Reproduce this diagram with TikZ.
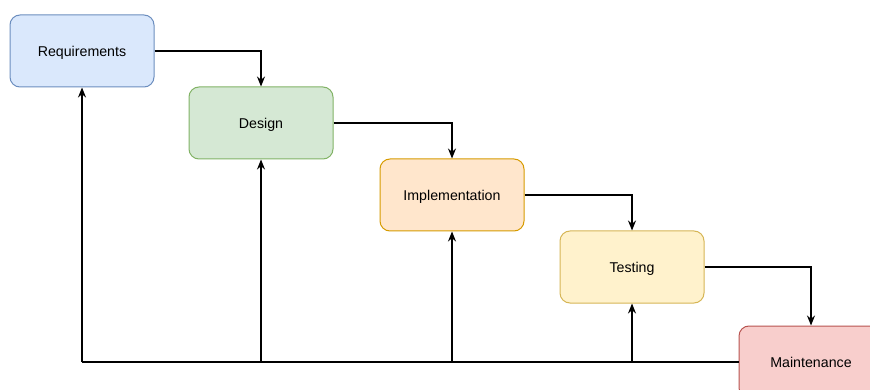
\documentclass[tikz,border=0pt]{standalone}
\usepackage{fontspec}
\setmainfont{Liberation Sans}
\usetikzlibrary{arrows.meta}
\definecolor{bfill}{HTML}{DAE8FC}\definecolor{bdraw}{HTML}{6C8EBF}
\definecolor{gfill}{HTML}{D5E8D4}\definecolor{gdraw}{HTML}{82B366}
\definecolor{ofill}{HTML}{FFE6CC}\definecolor{odraw}{HTML}{D79B00}
\definecolor{yfill}{HTML}{FFF2CC}\definecolor{ydraw}{HTML}{D6B656}
\definecolor{rfill}{HTML}{F8CECC}\definecolor{rdraw}{HTML}{B85450}
\begin{document}
\begin{tikzpicture}[x=1pt,y=-1pt,
  phase/.style={draw, line width=1pt, rounded corners=10pt, minimum width=144pt, minimum height=72pt, inner sep=0pt, text height=12.5pt, text depth=1pt, font=\fontsize{14.2}{16}\selectfont},
  conn/.style={line width=1.2pt, -{Stealth[length=10pt,width=8pt]}},
  plain/.style={line width=1.2pt}]
\useasboundingbox (0,0) rectangle (870,390);
\clip (0,0) rectangle (870,390);
\fill[white] (0,0) rectangle (870,390);
\node[phase, fill=bfill, draw=bdraw] (req) at (82,51) {Requirements};
\node[phase, fill=gfill, draw=gdraw] (des) at (261,123) {Design};
\node[phase, fill=ofill, draw=odraw] (imp) at (452,195) {Implementation};
\node[phase, fill=yfill, draw=ydraw] (tst) at (632,267) {Testing};
\node[phase, fill=rfill, draw=rdraw] (mnt) at (811,362) {Maintenance};
\draw[conn] (req.east) -| (des.north);
\draw[conn] (des.east) -| (imp.north);
\draw[conn] (imp.east) -| (tst.north);
\draw[conn] (tst.east) -| (mnt.north);
\coordinate (c1) at (req.south |- mnt.west);
\coordinate (c2) at (des.south |- mnt.west);
\coordinate (c3) at (imp.south |- mnt.west);
\coordinate (c4) at (tst.south |- mnt.west);
\draw[plain] (mnt.west) -- (c1);
\draw[conn] (c1) -- (req.south);
\draw[conn] (c2) -- (des.south);
\draw[conn] (c3) -- (imp.south);
\draw[conn] (c4) -- (tst.south);
\end{tikzpicture}
\end{document}
